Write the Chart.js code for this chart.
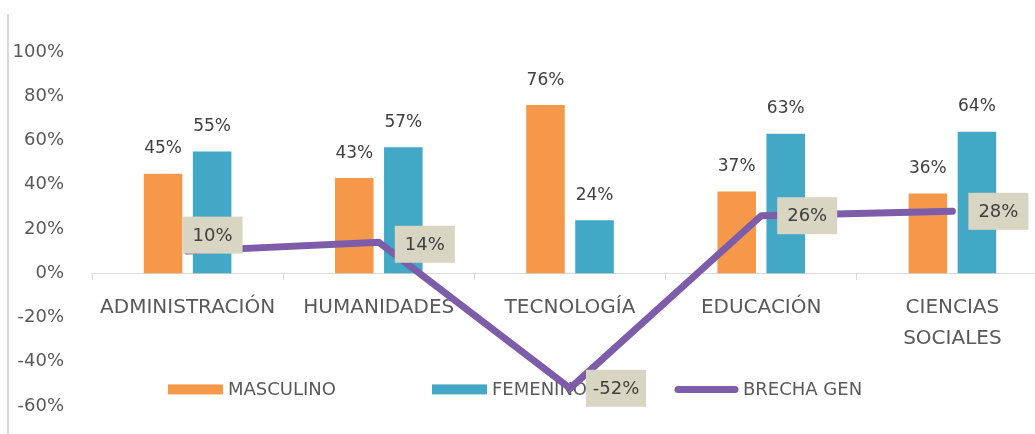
<!DOCTYPE html>
<html>
<head>
<meta charset="utf-8">
<script src="https://cdn.jsdelivr.net/npm/chart.js@4.4.1/dist/chart.umd.min.js"></script>
<style>
  html, body { margin: 0; padding: 0; background: #ffffff; overflow: hidden; width: 1035px; height: 434px; }
  #wrap { position: relative; width: 1035px; height: 434px; overflow: hidden; }
  #c { position: absolute; left: 0; top: 0; display: block; }
  #frame { position: absolute; left: 7px; top: 14px; width: 0; height: 420px; border-left: 2px solid #d9d9d9; }
</style>
</head>
<body>
<div id="wrap">
  <canvas id="c" width="1060" height="434"></canvas>
  <div id="frame"></div>
</div>
<script>
const categories = ["ADMINISTRACIÓN", "HUMANIDADES", "TECNOLOGÍA", "EDUCACIÓN", ["CIENCIAS", "SOCIALES"]];
const masculino = [45, 43, 76, 37, 36];
const femenino = [55, 57, 24, 63, 64];
const brecha = [10, 14, -52, 26, 28];
const seriesNames = ["MASCULINO", "FEMENINO", "BRECHA GEN"];
const yMin = -60, yMax = 100, yStep = 20;

const FONT = "'DejaVu Sans', sans-serif";
const TEXT = '#595959';
const ORANGE = '#f6984a';
const BLUE = '#43a7c6';
const PURPLE = '#7d5ca9';

const labelPlugin = {
  id: 'valueLabels',
  afterDatasetsDraw(chart) {
    const ctx = chart.ctx;
    ctx.save();
    ctx.textAlign = 'center';
    ctx.textBaseline = 'middle';
    // bar labels
    [0, 1].forEach(di => {
      const meta = chart.getDatasetMeta(di);
      const data = chart.data.datasets[di].data;
      meta.data.forEach((el, i) => {
        ctx.font = "17px " + FONT;
        ctx.fillStyle = '#404040';
        ctx.fillText(data[i] + '%', el.x, el.y - 25);
      });
    });
    // line labels in boxes
    const lm = chart.getDatasetMeta(2);
    const ld = chart.data.datasets[2].data;
    const shifts = chart.options.plugins.valueLabels.shifts;
    lm.data.forEach((el, i) => {
      const s = shifts[i] || {x: 0, y: 0};
      const w = 60, h = 37;
      const bx = el.x + 16 + s.x;
      const by = el.y - h / 2 + s.y;
      ctx.fillStyle = '#d9d5c3';
      ctx.fillRect(bx, by, w, h);
      ctx.fillStyle = '#404040';
      ctx.font = "18px " + FONT;
      ctx.fillText(ld[i] + '%', bx + w / 2, by + h / 2 + 1);
    });
    ctx.restore();
  }
};

const legendPlugin = {
  id: 'innerLegend',
  beforeDatasetsDraw(chart) {
    const ctx = chart.ctx;
    const cfg = chart.options.plugins.innerLegend;
    const yc = chart.scales.y.getPixelForValue(cfg.yValue);
    ctx.save();
    ctx.font = "18px " + FONT;
    ctx.textBaseline = 'middle';
    ctx.textAlign = 'left';
    chart.data.datasets.forEach((ds, i) => {
      const x = cfg.xs[i];
      if (ds.type === 'line') {
        ctx.strokeStyle = ds.borderColor;
        ctx.lineWidth = 7;
        ctx.lineCap = 'round';
        ctx.beginPath();
        ctx.moveTo(x + 3, yc);
        ctx.lineTo(x + 60, yc);
        ctx.stroke();
        ctx.fillStyle = TEXT;
        ctx.fillText(ds.label, x + 68, yc + 1);
      } else {
        ctx.fillStyle = ds.backgroundColor;
        ctx.fillRect(x, yc - 5, 55, 10);
        ctx.fillStyle = TEXT;
        ctx.fillText(ds.label, x + 60, yc + 1);
      }
    });
    ctx.restore();
  }
};

new Chart(document.getElementById('c'), {
  type: 'bar',
  data: {
    labels: categories,
    datasets: [
      { label: seriesNames[0], data: masculino, backgroundColor: ORANGE, order: 1,
        categoryPercentage: 0.513, barPercentage: 0.786 },
      { label: seriesNames[1], data: femenino, backgroundColor: BLUE, order: 1,
        categoryPercentage: 0.513, barPercentage: 0.786 },
      { type: 'line', label: seriesNames[2], data: brecha, borderColor: PURPLE, backgroundColor: PURPLE,
        borderWidth: 7, pointRadius: 0, pointHoverRadius: 0, tension: 0, order: 0,
        borderJoinStyle: 'round', borderCapStyle: 'round' }
    ]
  },
  options: {
    responsive: false,
    animation: false,
    events: [],
    layout: { padding: { left: 0, right: 12, top: 52, bottom: 28 } },
    plugins: {
      legend: { display: false },
      tooltip: { enabled: false },
      valueLabels: { shifts: [{x: -21, y: -16}, {x: 0, y: 2}, {x: 0, y: 0}, {x: 0, y: 0}, {x: 0, y: 0}] },
      innerLegend: { yValue: -52.5, xs: [168, 432, 675] }
    },
    scales: {
      x: {
        position: { y: 0 },
        offset: true,
        grid: { display: true, drawOnChartArea: false, drawTicks: true, tickLength: 6, color: '#d9d9d9', offset: true },
        border: { display: true, color: '#d9d9d9', width: 1 },
        ticks: { color: TEXT, font: { family: FONT, size: 20, lineHeight: 1.55 }, padding: 13, maxRotation: 0, autoSkip: false },
        afterFit(scale) { scale.height = 0; }
      },
      y: {
        min: yMin, max: yMax,
        grid: { display: false },
        border: { display: false },
        ticks: { stepSize: yStep, color: TEXT, font: { family: FONT, size: 18 }, padding: 20,
                 callback: v => v + '%' },
        afterFit(scale) { scale.width = 92; scale.paddingTop = 0; scale.paddingBottom = 0; }
      }
    }
  },
  plugins: [labelPlugin, legendPlugin]
});
</script>
</body>
</html>
